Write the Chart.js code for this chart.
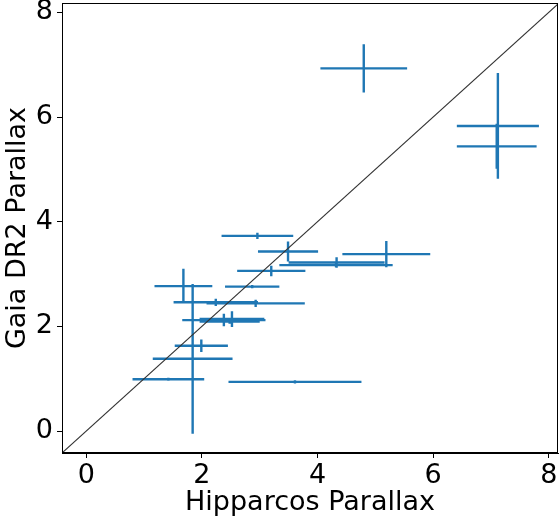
<!DOCTYPE html>
<html>
<head>
<meta charset="utf-8">
<script src="https://cdn.jsdelivr.net/npm/chart.js@4/dist/chart.umd.min.js"></script>
<style>
    html, body { margin: 0; padding: 0; background: #fff; }
    canvas { display: block; }
</style>
</head>
<body>
<canvas id="plx" width="559" height="525"></canvas>
<script>
// parallax pairs (mas) with their 1-sigma errors
const hipPlx  = [2.96, 3.49, 5.19, 4.33, 4.32, 3.20, 1.68, 2.87, 2.24, 2.93, 1.84, 2.38, 2.52, 2.48, 1.99, 1.42, 3.61, 4.80, 7.12, 7.10];
const hipErr  = [0.62, 0.52, 0.76, 0.83, 0.98, 0.59, 0.50, 0.47, 0.73, 0.85, 0.69, 0.72, 0.56, 0.52, 0.46, 0.62, 1.15, 0.75, 0.71, 0.69];
const gaiaPlx = [3.73, 3.43, 3.38, 3.22, 3.17, 3.06, 2.77, 2.76, 2.46, 2.44, 1.38, 2.12, 2.14, 2.09, 1.63, 0.99, 0.94, 6.93, 5.83, 5.44];
const gaiaErr = [0.06, 0.19, 0.25, 0.10, 0.04, 0.10, 0.33, 0.03, 0.07, 0.07, 1.43, 0.12, 0.15, 0.04, 0.12, 0.03, 0.03, 0.46, 1.01, 0.43];

const axisTicks = [0, 2, 4, 6, 8];
const X_RANGE = [-0.42, 8.16];
const Y_RANGE = [-0.42, 8.18];

const BAR_COLOR = '#1f77b4';
const FONT = { family: "'DejaVu Sans', sans-serif", size: 27 };

// horizontal + vertical error bars, no markers
const errorBarPlugin = {
    id: 'errorBars',
    beforeDatasetsDraw(chart) {
        const { ctx, chartArea: area, scales: { x, y } } = chart;
        ctx.save();
        ctx.beginPath();
        ctx.rect(area.left, area.top, area.width, area.height);
        ctx.clip();
        ctx.strokeStyle = BAR_COLOR;
        ctx.lineWidth = 2.4;
        ctx.beginPath();
        hipPlx.forEach((hx, i) => {
            const py = y.getPixelForValue(gaiaPlx[i]);
            ctx.moveTo(x.getPixelForValue(hx - hipErr[i]), py);
            ctx.lineTo(x.getPixelForValue(hx + hipErr[i]), py);
        });
        hipPlx.forEach((hx, i) => {
            const gy = gaiaPlx[i];
            const px = x.getPixelForValue(hx);
            ctx.moveTo(px, y.getPixelForValue(gy - gaiaErr[i]));
            ctx.lineTo(px, y.getPixelForValue(gy + gaiaErr[i]));
        });
        ctx.stroke();
        ctx.restore();
    },
    afterDraw(chart) {
        const { ctx, chartArea: a } = chart;
        ctx.save();
        ctx.strokeStyle = '#000';
        ctx.lineWidth = 1;
        ctx.strokeRect(Math.round(a.left) + 0.5, Math.round(a.top) + 0.5,
            Math.round(a.width) - 1, Math.round(a.height) - 1);
        ctx.restore();
    }
};

const fixedTicks = scale => {
    scale.ticks = axisTicks.map(value => ({ value }));
};

const axisCommon = {
    type: 'linear',
    afterBuildTicks: fixedTicks,
    grid: {
        display: true,
        drawOnChartArea: false,
        drawTicks: true,
        tickLength: 5,
        color: '#000',
        lineWidth: 1
    },
    border: { display: true, color: '#000', width: 1 },
    ticks: {
        color: '#000',
        font: FONT,
        maxRotation: 0
    }
};

new Chart(document.getElementById('plx').getContext('2d'), {
    type: 'scatter',
    data: {
        datasets: [
            {
                // centres only; bars come from the plugin
                data: hipPlx.map((hx, i) => ({ x: hx, y: gaiaPlx[i] })),
                pointRadius: 0,
                pointHoverRadius: 0,
                showLine: false
            },
            {
                // one-to-one line
                data: [
                    { x: X_RANGE[0], y: X_RANGE[0] },
                    { x: Y_RANGE[1], y: Y_RANGE[1] }
                ],
                showLine: true,
                borderColor: '#333',
                borderWidth: 1.1,
                pointRadius: 0,
                clip: 0
            }
        ]
    },
    plugins: [errorBarPlugin],
    options: {
        responsive: false,
        animation: false,
        events: [],
        layout: { padding: { top: 3, right: 1, left: 0, bottom: 0 } },
        plugins: {
            legend: { display: false },
            tooltip: { enabled: false }
        },
        scales: {
            x: {
                ...axisCommon,
                min: X_RANGE[0],
                max: X_RANGE[1],
                afterFit: scale => {
                    scale.height = 72;
                    scale.paddingLeft = 0;
                    scale.paddingRight = 0;
                },
                ticks: { ...axisCommon.ticks, padding: 2 },
                title: {
                    display: true,
                    text: 'Hipparcos Parallax',
                    color: '#000',
                    font: FONT,
                    padding: { top: 0, bottom: 6 }
                }
            },
            y: {
                ...axisCommon,
                min: Y_RANGE[0],
                max: Y_RANGE[1],
                afterFit: scale => {
                    scale.width = 62;
                    scale.paddingTop = 0;
                    scale.paddingBottom = 0;
                },
                ticks: { ...axisCommon.ticks, padding: 4 },
                title: {
                    display: true,
                    text: 'Gaia DR2 Parallax',
                    color: '#000',
                    font: FONT,
                    padding: { top: 2, bottom: 0 }
                }
            }
        }
    }
});
</script>
</body>
</html>
